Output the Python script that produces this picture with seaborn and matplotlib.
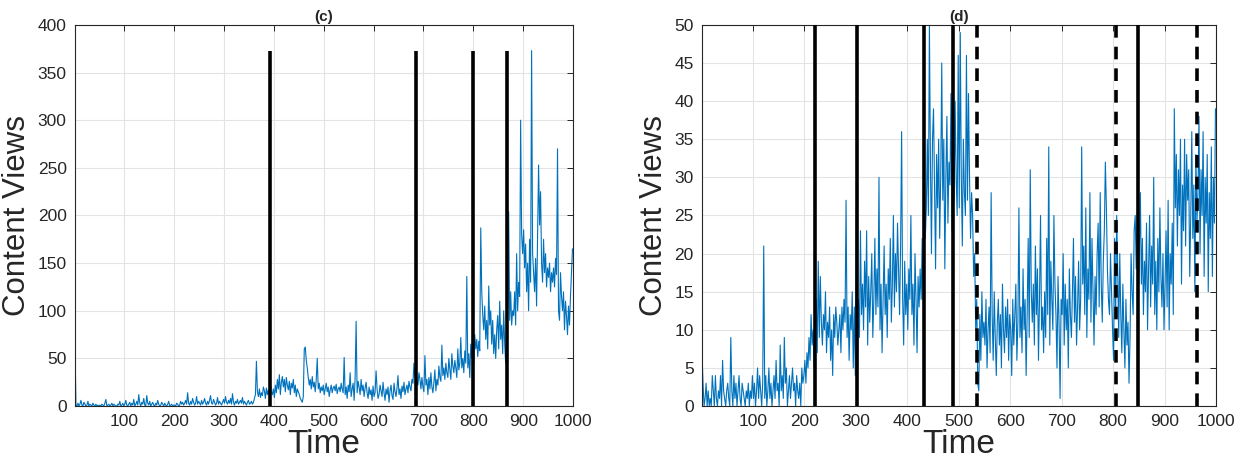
import numpy as np
import pandas as pd
import matplotlib
matplotlib.use("Agg")
import matplotlib.pyplot as plt
import seaborn as sns

# time grid (every other step of the 1..1000 series)
time = np.arange(1, 1001, 2)

# panel (c) content views, one chunk per 100 time units
views_c_0 = [65, 1, 0, 3, 0, 2, 6, 1, 0, 4, 2, 0, 1, 5, 0, 2, 1, 0, 3, 1, 0, 2, 0, 1, 0,
             1, 0, 2, 1, 0, 3, 7, 0, 1, 2, 0, 1, 3, 0, 2, 1, 0, 0, 2, 1, 5, 0, 1, 3, 0]
views_c_1 = [2, 6, 1, 0, 2, 4, 0, 3, 1, 7, 0, 2, 5, 1, 12, 3, 0, 4, 2, 8, 1, 0, 11, 3, 1,
             5, 0, 2, 4, 1, 0, 3, 1, 6, 2, 0, 1, 4, 2, 0, 3, 1, 0, 2, 5, 0, 1, 2, 0, 1]
views_c_2 = [1, 0, 3, 2, 0, 1, 5, 2, 4, 1, 3, 6, 2, 14, 3, 1, 5, 2, 8, 4, 1, 3, 10, 2, 5,
             3, 1, 6, 2, 4, 8, 3, 1, 5, 2, 6, 11, 3, 2, 7, 4, 1, 3, 9, 2, 5, 3, 1, 4, 7]
views_c_3 = [3, 10, 4, 2, 6, 3, 8, 2, 13, 4, 1, 5, 3, 7, 2, 4, 6, 3, 9, 2, 5, 3, 1, 4, 6,
             2, 3, 5, 2, 4, 8, 12, 47, 15, 10, 18, 9, 14, 11, 20, 16, 8, 19, 12, 17, 10, 24, 15, 12, 18]
views_c_4 = [9, 22, 14, 28, 18, 33, 12, 25, 31, 20, 28, 15, 30, 22, 17, 26, 12, 24, 19, 28,
             14, 22, 10, 18, 15, 12, 8, 6, 4, 10, 60, 62, 48, 40, 30, 22, 28, 18, 31, 20,
             25, 15, 28, 50, 18, 24, 14, 20, 16, 22]
views_c_5 = [12, 18, 24, 15, 20, 10, 17, 22, 14, 19, 21, 16, 23, 13, 18, 20, 15, 24, 18, 14,
             51, 12, 20, 8, 22, 15, 35, 10, 18, 24, 6, 30, 89, 14, 26, 20, 12, 28, 16, 22,
             10, 19, 25, 14, 8, 20, 12, 17, 6, 21]
views_c_6 = [10, 14, 37, 18, 8, 12, 22, 16, 10, 25, 14, 6, 18, 12, 20, 4, 16, 22, 11, 7,
             24, 15, 10, 19, 32, 12, 18, 8, 21, 15, 25, 12, 18, 22, 14, 26, 20, 16, 28, 24,
             45, 30, 38, 25, 22, 35, 28, 18, 30, 20]
views_c_7 = [15, 53, 22, 28, 12, 30, 18, 35, 20, 14, 25, 38, 16, 28, 22, 42, 30, 26, 64, 32,
             40, 28, 45, 35, 30, 50, 38, 28, 55, 42, 35, 48, 40, 30, 60, 38, 45, 72, 40, 50,
             35, 58, 45, 136, 40, 55, 30, 65, 50, 70]
views_c_8 = [45, 75, 60, 70, 52, 68, 58, 187, 120, 95, 80, 105, 70, 90, 60, 126, 85, 100, 65, 90,
             55, 75, 50, 80, 95, 60, 110, 70, 85, 55, 100, 65, 45, 70, 110, 204, 90, 120, 85, 100,
             95, 120, 85, 160, 100, 130, 115, 300, 180, 160]
views_c_9 = [185, 145, 170, 120, 150, 100, 175, 130, 373, 160, 140, 120, 155, 105, 180, 253, 190, 225, 150, 130,
             175, 140, 160, 125, 145, 135, 150, 120, 140, 130, 145, 125, 155, 138, 270, 100, 90, 140, 115, 100,
             120, 80, 110, 95, 75, 105, 85, 115, 140, 165]

# panel (d) content views
views_d_0 = [7, 3, 0, 1, 3, 0, 2, 0, 1, 0, 4, 2, 0, 4, 1, 0, 2, 1, 4, 0, 6, 2, 1, 0, 2,
             3, 1, 0, 9, 2, 0, 4, 1, 3, 0, 2, 4, 1, 0, 3, 2, 1, 0, 2, 1, 3, 0, 2, 1, 4]
views_d_1 = [1, 3, 0, 2, 5, 1, 4, 2, 0, 3, 21, 1, 4, 0, 2, 5, 1, 3, 0, 2, 4, 1, 6, 2, 3,
             0, 8, 2, 4, 1, 9, 3, 5, 0, 2, 4, 1, 3, 5, 2, 3, 0, 4, 2, 1, 3, 0, 5, 3, 4]
views_d_2 = [6, 3, 7, 5, 9, 6, 12, 8, 10, 5, 12, 14, 7, 19, 9, 17, 11, 8, 12, 10, 15, 7, 11, 9, 13,
             6, 10, 4, 12, 9, 13, 11, 8, 10, 12, 7, 13, 10, 14, 11, 27, 9, 13, 6, 12, 10, 15, 5, 13, 4]
views_d_3 = [26, 3, 14, 9, 23, 12, 16, 10, 19, 13, 23, 8, 17, 11, 15, 20, 9, 14, 22, 12, 18, 13, 30, 10, 16,
             7, 14, 21, 12, 16, 9, 18, 14, 22, 11, 16, 25, 13, 20, 15, 24, 18, 12, 21, 36, 14, 8, 19, 12, 16]
views_d_4 = [10, 18, 14, 25, 12, 16, 8, 20, 14, 7, 17, 13, 18, 14, 22, 14, 30, 22, 26, 35, 25, 50, 32, 20, 35,
             39, 28, 18, 33, 26, 35, 22, 30, 45, 27, 35, 18, 30, 38, 24, 32, 29, 41, 23, 34, 27, 40, 30, 25, 46]
views_d_5 = [26, 49, 30, 21, 35, 28, 25, 46, 27, 41, 30, 22, 28, 25, 17, 20, 10, 14, 3, 2, 12, 6, 15, 9, 11,
             8, 14, 5, 10, 13, 7, 28, 12, 6, 15, 9, 4, 11, 14, 8, 12, 5, 16, 10, 7, 13, 9, 14, 6, 12]
views_d_6 = [10, 4, 14, 8, 12, 16, 6, 11, 26, 9, 13, 7, 18, 10, 14, 4, 12, 22, 9, 31, 15, 11, 16, 8, 21,
             12, 18, 6, 14, 25, 10, 13, 7, 15, 9, 22, 12, 34, 8, 19, 14, 10, 25, 16, 12, 5, 17, 11, 1, 14]
views_d_7 = [12, 20, 8, 16, 10, 14, 5, 18, 12, 9, 15, 22, 11, 17, 8, 13, 19, 10, 14, 34, 16, 21, 12, 26, 9,
             18, 14, 28, 11, 22, 15, 8, 17, 12, 20, 24, 13, 28, 16, 11, 19, 23, 32, 26, 18, 14, 12, 20, 15, 10]
views_d_8 = [6, 22, 12, 25, 18, 9, 20, 12, 7, 16, 10, 5, 14, 8, 11, 3, 9, 20, 15, 12, 23, 25, 18, 25, 14,
             20, 28, 16, 22, 12, 19, 15, 24, 10, 18, 25, 13, 21, 16, 30, 12, 19, 10, 22, 15, 26, 17, 13, 20, 10]
views_d_9 = [16, 23, 13, 27, 10, 20, 16, 24, 12, 39, 26, 33, 21, 31, 25, 35, 16, 29, 23, 35, 21, 33, 27, 31, 17,
             25, 36, 22, 29, 15, 33, 24, 28, 38, 20, 31, 25, 36, 17, 30, 24, 33, 15, 28, 22, 34, 17, 30, 24, 39]

# detected change points
cp_c_solid = [392, 685, 800, 867]
cp_d_solid = [220, 302, 432, 489, 848]
cp_d_dashed = [535, 806, 963]

views_c = sum([views_c_0, views_c_1, views_c_2, views_c_3, views_c_4,
               views_c_5, views_c_6, views_c_7, views_c_8, views_c_9], [])
views_d = sum([views_d_0, views_d_1, views_d_2, views_d_3, views_d_4,
               views_d_5, views_d_6, views_d_7, views_d_8, views_d_9], [])

df_c = pd.DataFrame({"time": time, "views": views_c})
df_d = pd.DataFrame({"time": time, "views": views_d})

sns.set_style("whitegrid")
plt.rcParams["font.family"] = ["Liberation Sans", "DejaVu Sans"]

BLUE = "#0072BD"
fig = plt.figure(figsize=(12.37, 4.70), dpi=100)
ax_c = fig.add_axes([0.0606, 0.136, 0.4026, 0.811])
ax_d = fig.add_axes([0.5675, 0.136, 0.4155, 0.811])


def style_axis(ax, ymax, ystep, title):
    ax.set_xlim(1, 1000)
    ax.set_ylim(0, ymax)
    ax.set_xticks(np.arange(100, 1001, 100))
    ax.set_yticks(np.arange(0, ymax + 1, ystep))
    ax.grid(True, color="#e3e3e3", linewidth=0.8)
    ax.tick_params(direction="in", top=True, right=True, length=4,
                   labelsize=12.5, colors="#262626", width=0.7, pad=6)
    for sp in ax.spines.values():
        sp.set_color("#262626")
        sp.set_linewidth(0.8)
    ax.set_title(title, fontsize=11, fontweight="bold", pad=3)
    ax.set_xlabel("Time", fontsize=24, color="#262626", labelpad=0)
    ax.set_ylabel("Content Views", fontsize=22.5, color="#262626", labelpad=4)


sns.lineplot(data=df_c, x="time", y="views", ax=ax_c, color=BLUE,
             linewidth=0.8, estimator=None)
ax_c.vlines(cp_c_solid, 0, max(views_c), colors="black", linewidth=2.6, zorder=3)
style_axis(ax_c, 400, 50, "(c)")

sns.lineplot(data=df_d, x="time", y="views", ax=ax_d, color=BLUE,
             linewidth=0.8, estimator=None)
ax_d.vlines(cp_d_solid, 0, 50, colors="black", linewidth=2.6, zorder=3)
ax_d.vlines(cp_d_dashed, 0, 50, colors="black", linewidth=2.6,
            linestyles=(0, (3.5, 2.5)), zorder=3)
style_axis(ax_d, 50, 5, "(d)")

fig.savefig("out.png", dpi=100, facecolor="white")
